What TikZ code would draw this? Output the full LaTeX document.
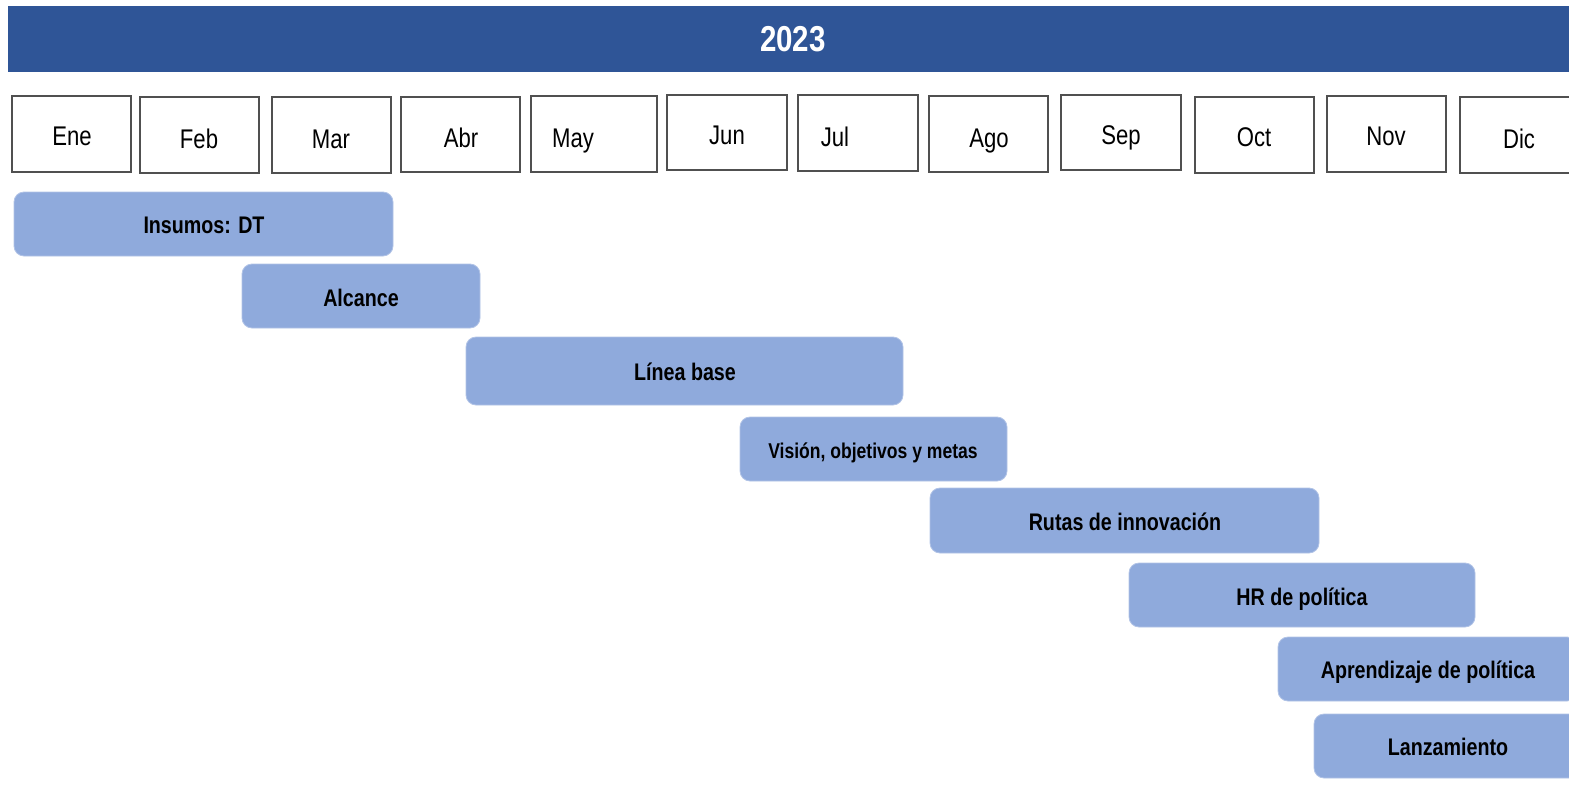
\documentclass[tikz,border=0pt]{standalone}
\usepackage{fontspec}
\setmainfont{Liberation Sans}[FakeStretch=0.82]
\usetikzlibrary{fit}
\definecolor{hdrblue}{HTML}{2F5597}
\definecolor{barblue}{HTML}{8FAADC}
\definecolor{boxgray}{HTML}{505050}
\tikzset{
  monthbox/.style={draw=boxgray, line width=1.4pt, fill=white, inner sep=0pt},
  monthtext/.style={font=\fontsize{13.5}{16}\selectfont, text=black, inner sep=0pt, anchor=base},
  barbox/.style={fill=barblue, draw=barblue!70!white, line width=0.4pt, rounded corners=5pt, inner sep=0pt},
  bartext/.style={font=\fontsize{12}{14}\selectfont\bfseries, text=black, inner sep=0pt, anchor=base},
  hdr/.style={fill=hdrblue, inner sep=0pt}
}
\begin{document}
\begin{tikzpicture}[x=0.5pt,y=-0.5pt]
\useasboundingbox (0,0) rectangle (1569,793);
\clip (0,0) rectangle (1569,793);
% header
\node[hdr, fit={(8,6) (1580,72)}] (hdr) {};
\node[font=\fontsize{18}{20}\selectfont\bfseries, text=white, inner sep=0pt, anchor=base] (year) at (793,51) {2023};
% months
\node[monthbox, fit={(12,96) (131,172)}] (m1) {};
\node[monthbox, fit={(140,97) (259,173)}] (m2) {};
\node[monthbox, fit={(272,97) (391,173)}] (m3) {};
\node[monthbox, fit={(401,97) (520,172)}] (m4) {};
\node[monthbox, fit={(531,96) (657,172)}] (m5) {};
\node[monthbox, fit={(667,95) (787,170)}] (m6) {};
\node[monthbox, fit={(798,95) (918,171)}] (m7) {};
\node[monthbox, fit={(929,96) (1048,172)}] (m8) {};
\node[monthbox, fit={(1061,95) (1181,170)}] (m9) {};
\node[monthbox, fit={(1195,97) (1314,173)}] (m10) {};
\node[monthbox, fit={(1327,96) (1446,172)}] (m11) {};
\node[monthbox, fit={(1460,97) (1590,173)}] (m12) {};
\node[monthtext] (t1) at (72,145) {Ene};
\node[monthtext] (t2) at (199,148) {Feb};
\node[monthtext] (t3) at (331,148) {Mar};
\node[monthtext] (t4) at (461,147) {Abr};
\node[monthtext] (t5) at (573,147) {May};
\node[monthtext] (t6) at (727,144) {Jun};
\node[monthtext] (t7) at (835,146) {Jul};
\node[monthtext] (t8) at (989,147) {Ago};
\node[monthtext] (t9) at (1121,144) {Sep};
\node[monthtext] (t10) at (1254,146) {Oct};
\node[monthtext] (t11) at (1386,145) {Nov};
\node[monthtext] (t12) at (1519,148) {Dic};
% bars
\node[barbox, fit={(14,192) (393,256)}] (b1) {};
\node[barbox, fit={(242,264) (480,328)}] (b2) {};
\node[barbox, fit={(466,337) (903,405)}] (b3) {};
\node[barbox, fit={(740,417) (1007,481)}] (b4) {};
\node[barbox, fit={(930,488) (1319,553)}] (b5) {};
\node[barbox, fit={(1129,563) (1475,627)}] (b6) {};
\node[barbox, fit={(1278,637) (1577,701)}] (b7) {};
\node[barbox, fit={(1314,714) (1583,778)}] (b8) {};
\node[bartext] (l1) at (204,233) {Insumos: DT};
\node[bartext] (l2) at (361,306) {Alcance};
\node[bartext] (l3) at (685,380) {Línea base};
\node[bartext, font=\fontsize{10.7}{13}\selectfont\bfseries] (l4) at (873,458) {Visión, objetivos y metas};
\node[bartext] (l5) at (1125,530) {Rutas de innovación};
\node[bartext] (l6) at (1302,605) {HR de política};
\node[bartext] (l7) at (1428,678) {Aprendizaje de política};
\node[bartext] (l8) at (1448,755) {Lanzamiento};
\end{tikzpicture}
\end{document}
